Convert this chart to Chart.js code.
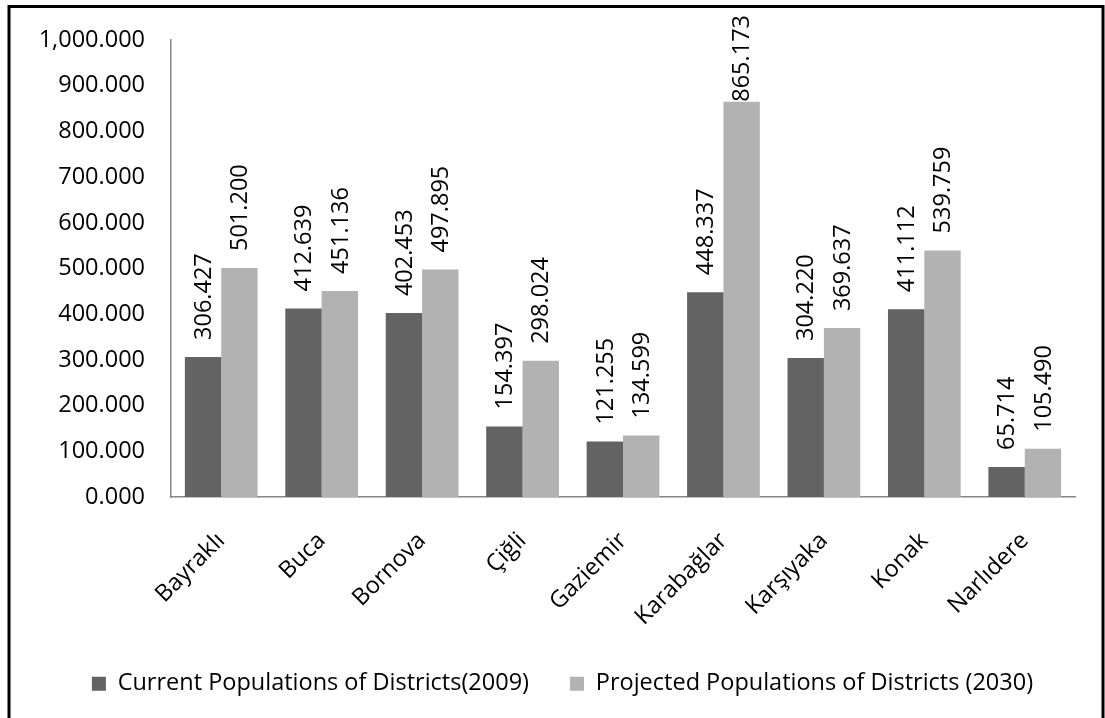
<!DOCTYPE html>
<html>
<head>
<meta charset="utf-8">
<script src="https://cdn.jsdelivr.net/npm/chart.js@4/dist/chart.umd.min.js"></script>
<style>
  html, body { margin: 0; padding: 0; background: #ffffff; }
  #wrap { width: 1105px; height: 718px; position: relative; }
</style>
</head>
<body>
<div id="wrap"><canvas id="chart" width="1105" height="718"></canvas></div>
<script>
// District names (İzmir)
const districts = ['Bayraklı', 'Buca', 'Bornova', 'Çiğli', 'Gaziemir', 'Karabağlar', 'Karşıyaka', 'Konak', 'Narlıdere'];

// Populations, in thousands
const population2009 = [306.427, 412.639, 402.453, 154.397, 121.255, 448.337, 304.220, 411.112, 65.714];
const population2030 = [501.200, 451.136, 497.895, 298.024, 134.599, 865.173, 369.637, 539.759, 105.490];

// Series names
const seriesNames = ['Current Populations of Districts(2009)', 'Projected Populations of Districts (2030)'];

// Y axis tick labels, bottom to top
const yTickLabels = ['0.000', '100.000', '200.000', '300.000', '400.000', '500.000',
                     '600.000', '700.000', '800.000', '900.000', '1,000.000'];

const FONT = "'Open Sans', 'DejaVu Sans', sans-serif";
const FONT_SIZE = 23.5;
const DARK = '#636363';
const LIGHT = '#b2b2b2';

// White page and the black frame around the figure
const framePlugin = {
  id: 'frame',
  beforeDraw(chart) {
    const ctx = chart.ctx;
    ctx.save();
    ctx.fillStyle = '#ffffff';
    ctx.fillRect(0, 0, chart.width, chart.height);
    ctx.strokeStyle = '#000000';
    ctx.lineWidth = 3;
    ctx.strokeRect(9, 6.5, 1094, 740);
    ctx.restore();
  }
};

// Nudge the legend so it is centred under the plot rather than the canvas
const legendShiftPlugin = {
  id: 'legendShift',
  afterLayout(chart) {
    if (chart.legend) {
      chart.legend.left += 25;
      chart.legend.right += 25;
    }
  }
};

// Vertical value labels above each bar
const valueLabelPlugin = {
  id: 'valueLabels',
  afterDatasetsDraw(chart) {
    const ctx = chart.ctx;
    ctx.save();
    ctx.font = FONT_SIZE + 'px ' + FONT;
    ctx.fillStyle = '#000000';
    ctx.textAlign = 'left';
    ctx.textBaseline = 'middle';
    chart.data.datasets.forEach((ds, di) => {
      const meta = chart.getDatasetMeta(di);
      meta.data.forEach((bar, i) => {
        const text = ds.data[i].toFixed(3);
        const w = ctx.measureText(text).width;
        let y = bar.y - 17;
        if (y - w < 15) y = 15 + w;
        ctx.save();
        ctx.translate(bar.x, y);
        ctx.rotate(-Math.PI / 2);
        ctx.fillText(text, 0, 1);
        ctx.restore();
      });
    });
    ctx.restore();
  }
};

new Chart(document.getElementById('chart'), {
  type: 'bar',
  data: {
    labels: districts,
    datasets: [
      { label: seriesNames[0], data: population2009, backgroundColor: DARK, borderWidth: 0 },
      { label: seriesNames[1], data: population2030, backgroundColor: LIGHT, borderWidth: 0 }
    ]
  },
  options: {
    responsive: false,
    animation: false,
    layout: { padding: { left: 0, right: 30, top: 35, bottom: 14 } },
    datasets: { bar: { categoryPercentage: 0.724, barPercentage: 1.0 } },
    plugins: {
      tooltip: { enabled: false },
      legend: {
        position: 'bottom',
        maxHeight: 73,
        labels: {
          font: { family: FONT, size: FONT_SIZE },
          color: '#000000',
          boxWidth: 14,
          boxHeight: 14,
          padding: 41
        }
      }
    },
    scales: {
      x: {
        grid: { display: false, drawTicks: false },
        border: { display: true, color: '#868686', width: 1.5 },
        ticks: {
          font: { family: FONT, size: FONT_SIZE },
          color: '#000000',
          minRotation: 45,
          maxRotation: 45,
          padding: 30
        },
        afterFit(scale) { scale.height = 134; }
      },
      y: {
        min: 0,
        max: 1000,
        grid: { display: false, drawTicks: false },
        border: { display: true, color: '#868686', width: 1.5 },
        ticks: {
          stepSize: 100,
          font: { family: FONT, size: FONT_SIZE },
          color: '#000000',
          padding: 26,
          callback: (v, i) => yTickLabels[i]
        },
        afterFit(scale) { scale.width = 171; }
      }
    }
  },
  plugins: [framePlugin, legendShiftPlugin, valueLabelPlugin]
});
</script>
</body>
</html>
